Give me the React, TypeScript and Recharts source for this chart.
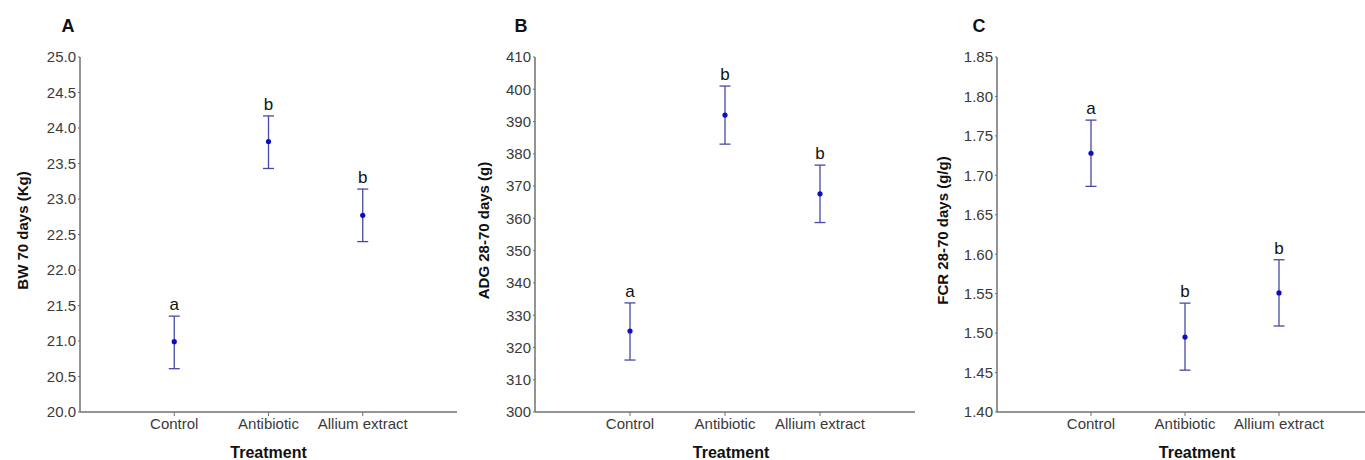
import React from 'react';
import { ScatterChart, Scatter, XAxis, YAxis, ErrorBar } from 'recharts';

const treatments = ['Control', 'Antibiotic', 'Allium extract'];
const categoryPositions = [1, 2, 3];

const bwMean = [20.99, 23.81, 22.77];
const bwLower = [20.61, 23.43, 22.4];
const bwUpper = [21.35, 24.17, 23.14];
const bwLetters = ['a', 'b', 'b'];
const bwTicks = [20.0, 20.5, 21.0, 21.5, 22.0, 22.5, 23.0, 23.5, 24.0, 24.5, 25.0];

const adgMean = [325.1, 392.0, 367.6];
const adgLower = [316.1, 383.0, 358.7];
const adgUpper = [333.8, 401.0, 376.5];
const adgLetters = ['a', 'b', 'b'];
const adgTicks = [300, 310, 320, 330, 340, 350, 360, 370, 380, 390, 400, 410];

const fcrMean = [1.728, 1.495, 1.551];
const fcrLower = [1.686, 1.453, 1.509];
const fcrUpper = [1.77, 1.538, 1.593];
const fcrLetters = ['a', 'b', 'b'];
const fcrTicks = [1.4, 1.45, 1.5, 1.55, 1.6, 1.65, 1.7, 1.75, 1.8, 1.85];

const FONT = '"Liberation Sans", Arial, sans-serif';
const AXIS = '#707070';
const BAR = '#4848a8';
const DOT = '#0c0cc0';

type PanelProps = {
  letter: string;
  yTitle: string;
  mean: number[];
  lower: number[];
  upper: number[];
  sig: string[];
  ticks: number[];
  decimals: number;
  left: number;
  yAxisWidth: number;
  chartWidth: number;
  rightMargin: number;
  yTitleDist: number;
  xTitleDx: number;
  letterDist: number;
};

function Panel(p: PanelProps) {
  const points = categoryPositions.map((x, i) => ({
    x,
    y: p.mean[i],
    err: [p.mean[i] - p.lower[i], p.upper[i] - p.mean[i]],
  }));
  const tops = categoryPositions.map((x, i) => ({ x, y: p.upper[i], sig: p.sig[i] }));
  const H = 460;
  const xAxisH = 30;
  const marginBottom = H - 412 - xAxisH;

  const yLabel = (lp: any) => {
    const vb = lp.viewBox || {};
    const cx = vb.x + vb.width - p.yTitleDist;
    const cy = vb.y + vb.height / 2 - 4;
    return (
      <text
        x={cx}
        y={cy}
        transform={`rotate(-90 ${cx} ${cy})`}
        textAnchor="middle"
        dominantBaseline="central"
        fontFamily={FONT}
        fontWeight="bold"
        fontSize={15}
        fill="#111"
      >
        {p.yTitle}
      </text>
    );
  };

  const xLabel = (lp: any) => {
    const vb = lp.viewBox || {};
    return (
      <text
        x={vb.x + vb.width / 2 + p.xTitleDx}
        y={vb.y + 40}
        textAnchor="middle"
        dominantBaseline="central"
        fontFamily={FONT}
        fontWeight="bold"
        fontSize={16}
        fill="#111"
      >
        Treatment
      </text>
    );
  };

  return (
    <div style={{ position: 'absolute', left: p.left, top: 0, width: p.chartWidth, height: H }}>
      <div
        style={{
          position: 'absolute',
          left: p.yAxisWidth - p.letterDist - 8,
          top: 15,
          width: 16,
          textAlign: 'center',
          fontFamily: FONT,
          fontWeight: 'bold',
          fontSize: 18,
          color: '#111',
          lineHeight: '22px',
        }}
      >
        {p.letter}
      </div>
      <ScatterChart
        width={p.chartWidth}
        height={H}
        margin={{ top: 57, right: p.rightMargin, bottom: marginBottom, left: 0 }}
      >
        <XAxis
          type="number"
          dataKey="x"
          domain={[0, 4]}
          ticks={categoryPositions}
          interval={0}
          height={xAxisH}
          tickFormatter={(v: number) => treatments[v - 1]}
          axisLine={{ stroke: AXIS, strokeWidth: 1.5 }}
          tickLine={{ stroke: AXIS }}
          tickSize={4}
          tickMargin={2}
          tick={{ fill: '#3a3a3a', fontSize: 15, fontFamily: FONT }}
          label={xLabel}
        />
        <YAxis
          type="number"
          dataKey="y"
          domain={[p.ticks[0], p.ticks[p.ticks.length - 1]]}
          ticks={p.ticks}
          interval={0}
          width={p.yAxisWidth}
          tickFormatter={(v: number) => v.toFixed(p.decimals)}
          axisLine={{ stroke: AXIS, strokeWidth: 1.5 }}
          tickLine={{ stroke: AXIS }}
          tickSize={2}
          tickMargin={2}
          tick={{ fill: '#3a3a3a', fontSize: 15, fontFamily: FONT }}
          label={yLabel}
        />
        <Scatter
          data={points}
          isAnimationActive={false}
          shape={(sp: any) => <circle cx={sp.cx} cy={sp.cy} r={2.6} fill={DOT} />}
        >
          <ErrorBar dataKey="err" direction="y" width={5.5} stroke={BAR} strokeWidth={1.3} />
        </Scatter>
        <Scatter
          data={tops}
          isAnimationActive={false}
          shape={(sp: any) => (
            <text
              x={sp.cx}
              y={sp.cy - 6}
              textAnchor="middle"
              fontFamily={FONT}
              fontSize={17}
              fill="#111"
            >
              {sp.payload.sig}
            </text>
          )}
        />
      </ScatterChart>
    </div>
  );
}

export default function App() {
  return (
    <div
      style={{
        position: 'absolute',
        left: 0,
        top: 0,
        width: 1365,
        height: 460,
        overflow: 'hidden',
        background: '#fff',
      }}
    >
      <Panel
        letter="A"
        yTitle="BW 70 days (Kg)"
        mean={bwMean}
        lower={bwLower}
        upper={bwUpper}
        sig={bwLetters}
        ticks={bwTicks}
        decimals={1}
        left={0}
        yAxisWidth={80}
        chartWidth={460}
        rightMargin={3}
        yTitleDist={58}
        xTitleDx={0}
        letterDist={12}
      />
      <Panel
        letter="B"
        yTitle="ADG 28-70 days (g)"
        mean={adgMean}
        lower={adgLower}
        upper={adgUpper}
        sig={adgLetters}
        ticks={adgTicks}
        decimals={0}
        left={455}
        yAxisWidth={80}
        chartWidth={460}
        rightMargin={0}
        yTitleDist={52}
        xTitleDx={6}
        letterDist={14}
      />
      <Panel
        letter="C"
        yTitle="FCR 28-70 days (g/g)"
        mean={fcrMean}
        lower={fcrLower}
        upper={fcrUpper}
        sig={fcrLetters}
        ticks={fcrTicks}
        decimals={2}
        left={910}
        yAxisWidth={87}
        chartWidth={465}
        rightMargin={2}
        yTitleDist={55}
        xTitleDx={12}
        letterDist={18}
      />
    </div>
  );
}
